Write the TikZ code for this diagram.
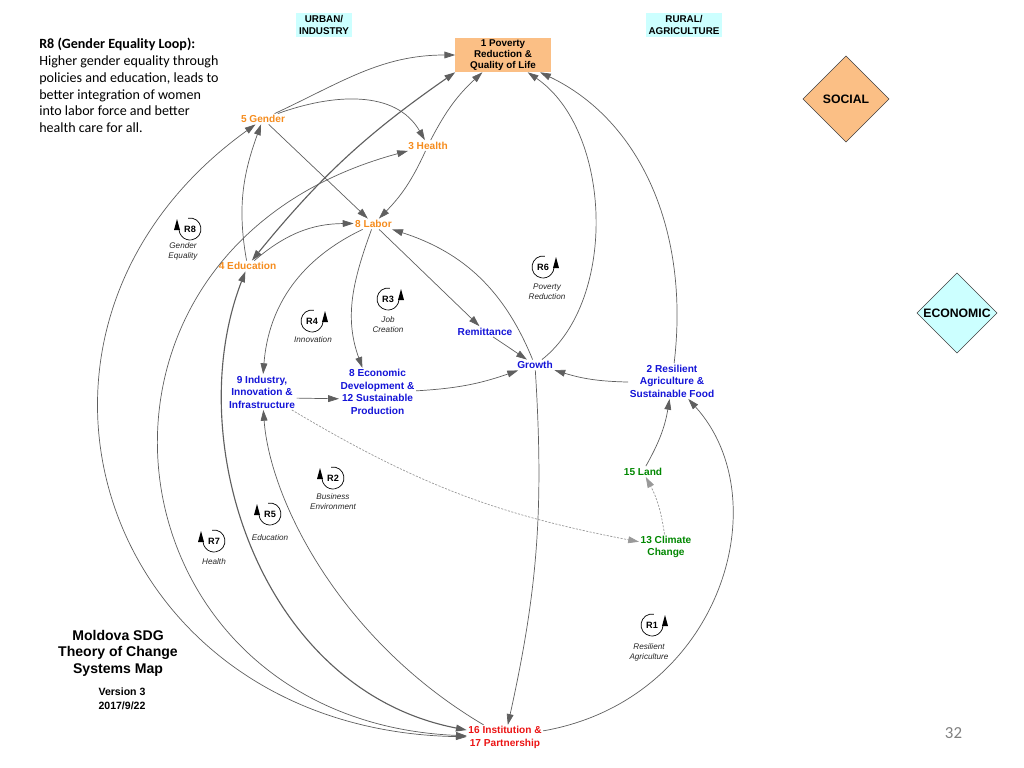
\documentclass[tikz,border=0pt]{standalone}
\usepackage{fontspec}
\setmainfont{Liberation Sans}
\newfontfamily\notefont{Carlito}
\usepackage{tikz}
\usetikzlibrary{calc,arrows.meta}

\definecolor{boxorange}{RGB}{251,191,133}
\definecolor{boxcyan}{RGB}{204,255,255}
\definecolor{varorange}{RGB}{245,140,30}
\definecolor{varblue}{RGB}{20,20,215}
\definecolor{vargreen}{RGB}{0,135,0}
\definecolor{varred}{RGB}{235,20,20}
\definecolor{linkgray}{RGB}{95,95,95}

\begin{document}
\begin{tikzpicture}[x=0.025cm,y=0.025cm,
    var/.style={font=\bfseries\fontsize{7.2}{8.9}\selectfont, align=center, inner sep=1pt},
    flow/.style={draw=linkgray, line width=0.5pt, -{Triangle[length=2.7mm,width=1.7mm]}},
    flowboth/.style={flow, {Triangle[length=2.7mm,width=1.7mm]}-{Triangle[length=2.7mm,width=1.7mm]}},
    flowthick/.style={flowboth, line width=0.8pt},
    flowdash/.style={flow, draw=gray!80, dash pattern=on 1.5pt off 1pt},
    looptag/.style={font=\bfseries\fontsize{6.5}{7}\selectfont, inner sep=0pt},
    loopcap/.style={font=\itshape\fontsize{5.8}{7}\selectfont, align=center, text=black!85, inner sep=0pt}]

  % page frame (pixel grid of the slide, y downwards)
  \useasboundingbox (0,0) rectangle (1024,-768);

  % note and title
  \node[anchor=north west, align=left, inner sep=0pt, font=\notefont\fontsize{10}{12.05}\selectfont] (note) at (39,-37.5)
    {\textbf{R8 (Gender Equality Loop):}\\Higher gender equality through\\policies and education, leads to\\better integration of women\\into labor force and better\\health care for all.};
  \node[align=center, font=\bfseries\fontsize{10}{11.8}\selectfont] (title) at (118,-653) {Moldova SDG\\Theory of Change\\Systems Map};
  \node[align=center, font=\bfseries\fontsize{7.5}{10}\selectfont] (version) at (122,-699) {Version 3\\2017/9/22};
  \node[font=\notefont\fontsize{12}{14}\selectfont, text=gray] (pagenum) at (953.5,-733) {32};

  % region tags
  \node[fill=boxcyan, align=center, inner sep=0pt, minimum width=1.4cm, minimum height=0.6cm,
        font=\bfseries\fontsize{7}{9}\selectfont] (urban) at (324,-25) {URBAN/\\INDUSTRY};
  \node[fill=boxcyan, align=center, inner sep=0pt, minimum width=1.9cm, minimum height=0.6cm,
        font=\bfseries\fontsize{7}{9}\selectfont] (rural) at (684,-25) {RURAL/\\AGRICULTURE};

  % SOCIAL / ECONOMIC diamonds
  \draw[fill=boxorange, draw=black!75, line width=0.4pt] (846,-56) -- (889,-99) -- (846,-142) -- (803,-99) -- cycle;
  \node[font=\bfseries\fontsize{8.7}{10}\selectfont] (social) at (846,-99) {SOCIAL};
  \draw[fill=boxcyan, draw=black!75, line width=0.4pt] (957,-273) -- (997,-313) -- (957,-353) -- (917,-313) -- cycle;
  \node[font=\bfseries\fontsize{8.7}{10}\selectfont] (economic) at (957,-313) {ECONOMIC};

  % variables
  \node[var, fill=boxorange, minimum width=2.375cm, minimum height=0.85cm,
        font=\bfseries\fontsize{7}{7.8}\selectfont] (poverty) at (503,-55) {1 Poverty\\Reduction \&\\Quality of Life};
  \node[var, text=varorange] (gender) at (263,-119) {5 Gender};
  \node[var, text=varorange] (health) at (428,-145.5) {3 Health};
  \node[var, text=varorange] (labor) at (373.5,-224) {8 Labor};
  \node[var, text=varorange] (education) at (247.5,-266) {4 Education};
  \node[var, text=varblue] (remit) at (485,-331.5) {Remittance};
  \node[var, text=varblue] (growth) at (535,-365) {Growth};
  \node[var, text=varblue] (agri) at (672,-381) {2 Resilient\\Agriculture \&\\Sustainable Food};
  \node[var, text=varblue] (industry) at (262,-392) {9 Industry,\\Innovation \&\\Infrastructure};
  \node[var, text=varblue] (econ) at (377.5,-392) {8 Economic\\Development \&\\12 Sustainable\\Production};
  \node[var, text=vargreen] (land) at (643,-471.5) {15 Land};
  \node[var, text=vargreen] (climate) at (666,-547) {13 Climate\\Change};
  \node[var, text=varred] (inst) at (505,-737.5) {16 Institution \&\\17 Partnership};

  % loop markers: centre, name, side of the arrow (+1 right, -1 left), caption
  \foreach \cx/\cy/\rname/\side/\tx/\ty/\cap in {
      190/229/R8/-1/183/251/{Gender\\Equality},
      543/267/R6/1/547/292/{Poverty\\Reduction},
      388/299/R3/1/388/324.5/{Job\\Creation},
      312/321/R4/1/313/340/{Innovation},
      333/478/R2/-1/333/502/{Business\\Environment},
      270/514/R5/-1/270/538/{Education},
      214/541/R7/-1/214/562/{Health},
      652/625/R1/1/649/652/{Resilient\\Agriculture}}{
    \pgfmathsetmacro{\arcStart}{90-10*\side}
    \pgfmathsetmacro{\arcEnd}{90+265*\side}
    \pgfmathsetmacro{\tipX}{\cx+13*(\side)-3}
    \draw[line width=0.5pt] (\cx,-\cy) ++(\arcStart:11) arc[start angle=\arcStart, end angle=\arcEnd, radius=11];
    \fill (\tipX,-\cy-1) -- ++(6,0) -- ++(-3,11) -- cycle;
    \node[looptag] (tag\rname) at (\cx,-\cy) {\rname};
    \node[loopcap] (cap\rname) at (\tx,-\ty) {\cap};
  }

  % links around 5 Gender
  \draw[flow] (gender) to[out=25,in=180] (poverty.west);
  \draw[flow] (gender) to[out=20,in=120] (health);
  \draw[flow] (gender) -- (labor);
  \draw[flow] (education) to[out=100,in=250] (gender);

  % long arcs on the left, all from 16 Institution
  \draw[flowboth] (inst) .. controls (100,-730) and (-30,-330) .. (gender);
  \draw[flowboth] (inst) .. controls (100,-720) and (40,-250) .. (health);
  \draw[flowthick] (inst) .. controls (260,-690) and (180,-440) .. (education);
  \draw[flow] (inst) .. controls (340,-640) and (270,-500) .. (industry);

  % 4 Education
  \draw[flowthick] (education) to[bend left=8] (poverty.south west);
  \draw[flow] (education) to[bend left=20] (labor);

  % 3 Health
  \draw[flow] (health) to[bend left=10] (poverty.220);
  \draw[flow] (health) to[bend left=10] (labor);

  % 8 Labor
  \draw[flow] (labor) to[bend right=30] (industry);
  \draw[flow] (labor) to[out=-110,in=110] (econ.122);
  \draw[flow] (labor) -- (remit);

  % economy side
  \draw[flow] (remit) -- (growth);
  \draw[flow] (industry.-10) -- (econ.190);
  \draw[flow] (econ) to[bend right=8] (growth);
  \draw[flow] (agri) to[bend left=8] (growth);
  \draw[flow] (growth) .. controls (618,-300) and (612,-130) .. (poverty.325);
  \draw[flow] (agri) .. controls (690,-230) and (640,-120) .. (poverty.335);
  \draw[flow] (growth) to[bend right=25] (labor);
  \draw[flow] (growth) to[bend left=8] (inst);

  % climate and land
  \draw[flowdash] (industry) to[bend right=10] (climate);
  \draw[flowdash] (climate) to[bend right=10] (land);
  \draw[flow] (land) to[bend right=10] (agri);
  \draw[flow] (inst) .. controls (720,-700) and (780,-500) .. (agri);
\end{tikzpicture}
\end{document}
